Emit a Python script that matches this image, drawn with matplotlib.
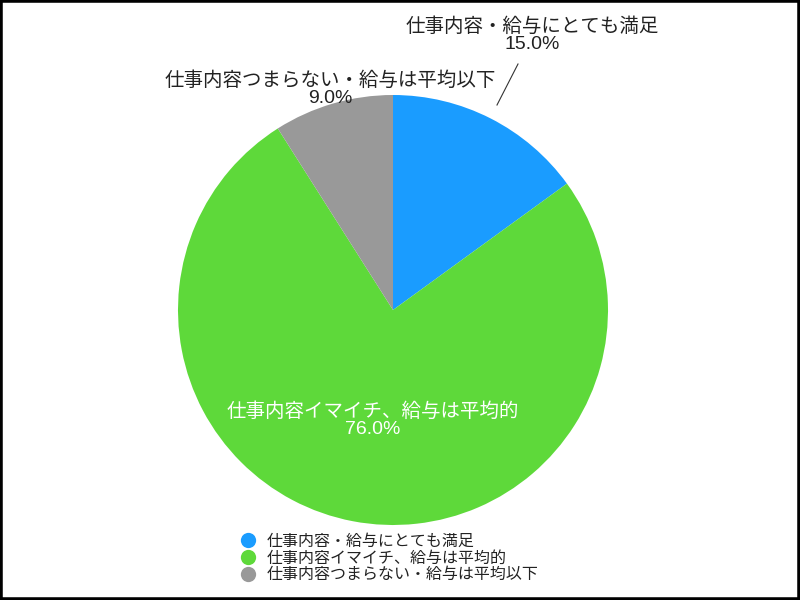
import matplotlib
matplotlib.use("Agg")
import matplotlib.pyplot as plt
from matplotlib.lines import Line2D
from matplotlib.patches import Rectangle

plt.rcParams['font.family'] = ['Liberation Sans', 'Noto Sans CJK JP', 'DejaVu Sans']

categories = ["仕事内容・給与にとても満足", "仕事内容イマイチ、給与は平均的", "仕事内容つまらない・給与は平均以下"]
values = [15.0, 76.0, 9.0]
colors = ["#1a9cff", "#5ed93a", "#999999"]

fig = plt.figure(figsize=(8, 6), dpi=100)
ax = fig.add_axes([0, 0, 1, 1])

cx, cy, r = 393, 290, 215
wedges, _ = ax.pie(values, colors=colors, startangle=90, counterclock=False,
                   center=(cx, cy), radius=r, frame=True,
                   wedgeprops=dict(linewidth=0))
ax.set_xlim(0, 800)
ax.set_ylim(0, 600)
ax.set_aspect('equal')
ax.axis('off')

fs = 14
# blue label (outside, with leader line)
ax.text(532, 565, f"{categories[0]}\n{values[0]:.1f}%", ha='center', va='center',
        fontsize=fs, color='#222222', linespacing=1.0)
ax.plot([497, 518], [495, 536], color='#333333', lw=0.8)
# gray label (outside)
ax.text(330, 511, f"{categories[2]}\n{values[2]:.1f}%", ha='center', va='center',
        fontsize=fs, color='#222222', linespacing=1.0)
# green label (inside)
ax.text(373, 180, f"{categories[1]}\n{values[1]:.1f}%", ha='center', va='center',
        fontsize=fs, color='white', linespacing=1.0)

handles = [Line2D([0], [0], marker='o', linestyle='', markersize=11,
                  markerfacecolor=c, markeredgewidth=0) for c in colors]
leg = ax.legend(handles, categories, loc='center', bbox_to_anchor=(0.4875, 0.07),
                bbox_transform=fig.transFigure, frameon=False, fontsize=11.5,
                handlelength=0.8, handletextpad=0.8, labelspacing=0.1, borderpad=0)
for t in leg.get_texts():
    t.set_color('#222222')

fig.patches.append(Rectangle((0, 0), 1, 1, transform=fig.transFigure, fill=False,
                             edgecolor='black', linewidth=4))
fig.savefig("out.png", dpi=100)
